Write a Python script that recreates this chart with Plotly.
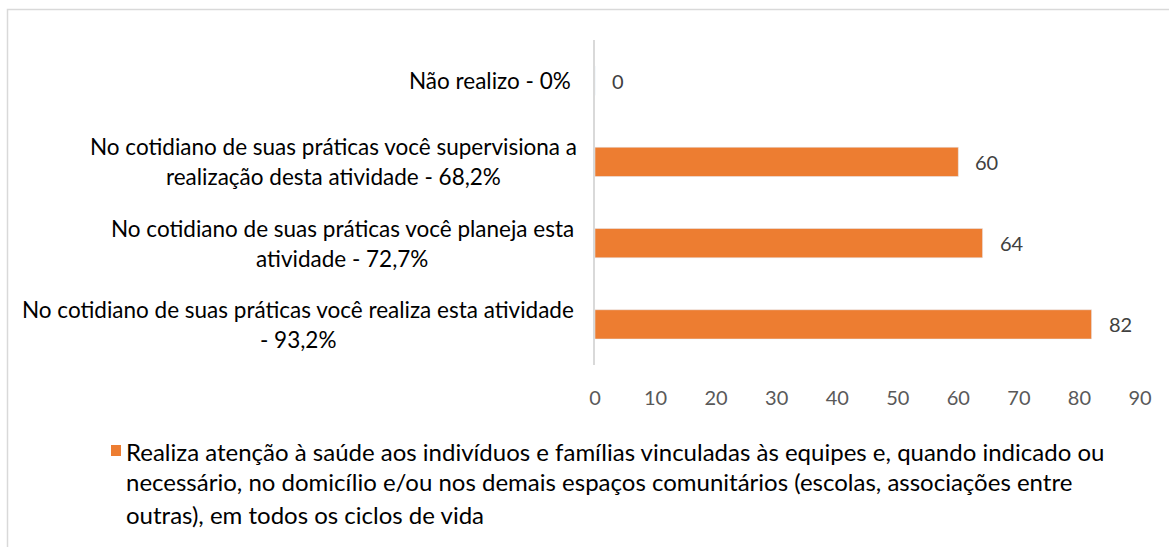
import plotly.graph_objects as go

# ---- data ----
categories = [
    "Não realizo - 0%",
    "No cotidiano de suas práticas você supervisiona a realização desta atividade - 68,2%",
    "No cotidiano de suas práticas você planeja esta atividade - 72,7%",
    "No cotidiano de suas práticas você realiza esta atividade - 93,2%",
]
category_lines = [
    ["Não realizo - 0%"],
    ["No cotidiano de suas práticas você supervisiona a", "realização desta atividade - 68,2%"],
    ["No cotidiano de suas práticas você planeja esta", "atividade - 72,7%"],
    ["No cotidiano de suas práticas você realiza esta atividade", "- 93,2%"],
]
values = [0, 60, 64, 82]
x_ticks = [0, 10, 20, 30, 40, 50, 60, 70, 80, 90]
series_name = ("Realiza atenção à saúde aos indivíduos e famílias vinculadas às equipes e, quando indicado ou "
               "necessário, no domicílio e/ou nos demais espaços comunitários (escolas, associações entre "
               "outras), em todos os ciclos de vida")
legend_lines = [
    "Realiza atenção à saúde aos indivíduos e famílias vinculadas às equipes e, quando indicado ou",
    "necessário, no domicílio e/ou nos demais espaços comunitários (escolas, associações entre",
    "outras), em todos os ciclos de vida",
]

# ---- layout geometry ----
W, H = 1169, 547
L, R, T, B = 595, 29, 40, 182
PW, PH = W - L - R, H - T - B
FONT = "Lato"


def px2x(px):
    return (px - L) / PW


def py2y(py):
    return (H - B - py) / PH


label_centers = [None, 333, 342, 298]  # pixel centre of multi-line label blocks

fig = go.Figure()
fig.add_trace(go.Bar(
    x=values, y=categories, orientation="h", width=0.36,
    marker=dict(color="#ED7D31"), name=series_name, showlegend=False,
    hoverinfo="x+y",
))

annotations = []
for cat, lines, v, cpx in zip(categories, category_lines, values, label_centers):
    if len(lines) == 1:
        annotations.append(dict(
            x=0, xref="paper", y=cat, yref="y", text=lines[0], showarrow=False,
            xanchor="right", yanchor="middle", xshift=-22,
            font=dict(family=FONT, size=22.5, color="#000000")))
    else:
        n = len(lines)
        for i, ln in enumerate(lines):
            annotations.append(dict(
                x=px2x(cpx), xref="paper", y=cat, yref="y", text=ln, showarrow=False,
                xanchor="center", yanchor="middle", yshift=(n - 1) * 15 - i * 30,
                font=dict(family=FONT, size=22.5, color="#000000")))
    annotations.append(dict(
        x=v, xref="x", y=cat, yref="y", text=str(v), showarrow=False,
        xanchor="left", yanchor="middle", xshift=15,
        font=dict(family=FONT, size=20, color="#404040")))

legend_y = [451, 482, 514]
for ln, ly in zip(legend_lines, legend_y):
    annotations.append(dict(
        x=px2x(124), xref="paper", y=py2y(ly), yref="paper", text=ln, showarrow=False,
        xanchor="left", yanchor="middle",
        font=dict(family=FONT, size=24, color="#000000")))

shapes = [
    # outer chart border (partly cut off at right/bottom)
    dict(type="rect", xref="paper", yref="paper",
         x0=px2x(7.5), x1=px2x(1180), y0=py2y(560), y1=py2y(9.5),
         line=dict(color="#D9D9D9", width=1.5), fillcolor="rgba(0,0,0,0)", layer="below"),
    # legend swatch
    dict(type="rect", xref="paper", yref="paper",
         x0=px2x(111), x1=px2x(121), y0=py2y(456), y1=py2y(445),
         line=dict(width=0), fillcolor="#ED7D31"),
]

fig.update_layout(
    width=W, height=H,
    margin=dict(l=L, r=R, t=T, b=B, pad=0),
    paper_bgcolor="white", plot_bgcolor="white",
    annotations=annotations, shapes=shapes,
    showlegend=False,
    font=dict(family=FONT, size=20, color="#595959"),
    xaxis=dict(range=[0, 90], tickvals=x_ticks, showgrid=False, zeroline=False,
               showline=False, ticks="", ticklabelstandoff=19,
               tickfont=dict(family=FONT, size=20, color="#595959"), fixedrange=True),
    yaxis=dict(autorange="reversed", showticklabels=False, showgrid=False, zeroline=False,
               showline=True, linecolor="#D9D9D9", linewidth=1.5, ticks="", fixedrange=True),
)

fig.write_html("out.html", config={"displayModeBar": False},
               post_script="document.body.style.margin='0';document.body.style.overflow='hidden';")
